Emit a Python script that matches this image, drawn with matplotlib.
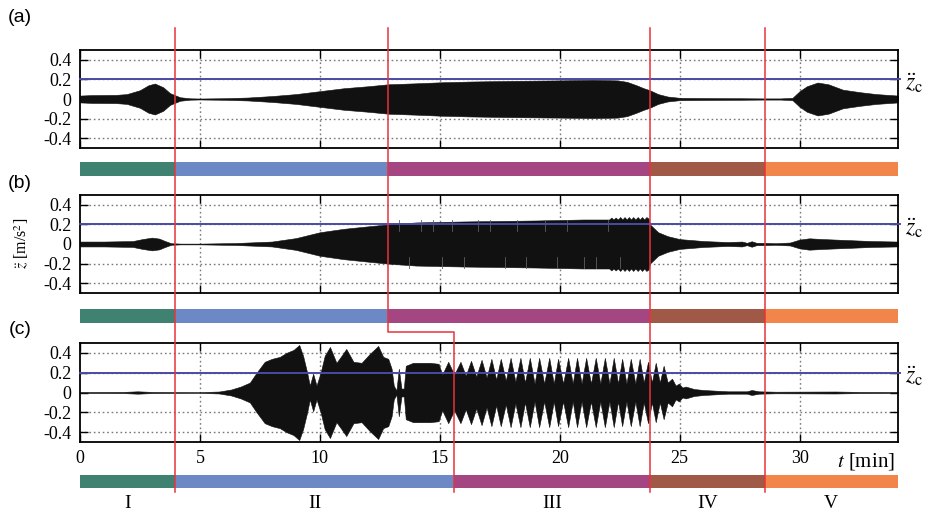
import matplotlib
matplotlib.use('Agg')
import matplotlib.pyplot as plt

# envelope amplitudes (m/s^2)
a_t = [0.0, 0.5, 1.5, 1.95, 2.5, 2.85, 3.12, 3.47, 3.75, 4.17,
       4.6, 5.0, 6.0, 7.0, 8.0, 9.0, 10.0, 11.0, 12.0, 12.85,
       14.0, 15.0, 16.25, 18.0, 20.0, 21.4, 22.4, 22.8, 23.2, 23.5,
       23.75, 24.1, 24.5, 25.0, 26.0, 27.5, 28.5, 29.2, 29.7, 30.0,
       30.3, 30.75, 31.2, 31.8, 32.5, 33.2, 34.1]
a_amp = [0.035, 0.04, 0.042, 0.05, 0.09, 0.14, 0.158, 0.12, 0.06, 0.018,
         0.007, 0.005, 0.008, 0.015, 0.03, 0.05, 0.08, 0.11, 0.13, 0.15,
         0.16, 0.17, 0.178, 0.185, 0.19, 0.195, 0.19, 0.175, 0.14, 0.11,
         0.09, 0.05, 0.025, 0.012, 0.01, 0.008, 0.006, 0.006, 0.012, 0.08,
         0.13, 0.168, 0.15, 0.095, 0.07, 0.05, 0.035]

b_t = [0.0, 1.0, 2.2, 2.6, 3.0, 3.3, 3.55, 3.8, 4.2, 5.0,
       6.5, 8.0, 9.0, 10.0, 11.0, 12.0, 12.83, 14.0, 16.0, 19.0,
       21.0, 21.8, 22.06, 22.15, 22.24, 22.33, 22.42, 22.52, 22.61, 22.7,
       22.79, 22.88, 22.97, 23.06, 23.15, 23.25, 23.34, 23.43, 23.52, 23.61,
       23.7, 23.76, 24.1, 24.5, 25.0, 26.0, 27.0, 27.6, 27.8, 28.0,
       28.2, 28.5, 29.0, 29.6, 30.0, 30.4, 31.0, 32.0, 33.0, 34.1]
b_amp = [0.025, 0.025, 0.03, 0.05, 0.065, 0.055, 0.03, 0.008, 0.004, 0.004,
         0.01, 0.025, 0.06, 0.12, 0.155, 0.18, 0.2, 0.22, 0.23, 0.24,
         0.25, 0.25, 0.25, 0.27, 0.25, 0.27, 0.25, 0.275, 0.25, 0.275,
         0.25, 0.275, 0.25, 0.275, 0.25, 0.275, 0.25, 0.275, 0.25, 0.275,
         0.26, 0.2, 0.12, 0.08, 0.05, 0.03, 0.02, 0.025, 0.012, 0.028,
         0.012, 0.012, 0.008, 0.015, 0.045, 0.058, 0.05, 0.04, 0.03, 0.025]
# light vertical streaks inside record (b)
b_streak_t = [13.3, 13.7, 14.2, 14.7, 15.1, 15.5, 16.0, 16.6, 17.1, 17.7,
              18.2, 18.6, 19.4, 19.9, 20.3, 21.0, 21.5, 22.0, 22.5]
b_streak_side = [1, -1, 1, 1, -1, 1, -1, 1, 1, -1,
                 1, -1, 1, -1, 1, -1, -1, 1, -1]

c_t = [0.0, 1.8, 2.4, 3.0, 5.0, 5.8, 6.3, 6.7, 7.08, 7.36,
       7.7, 8.0, 8.33, 8.6, 8.9, 9.14, 9.3, 9.47, 9.58, 9.72,
       9.86, 10.03, 10.2, 10.42, 10.69, 10.9, 11.1, 11.4, 11.74, 12.08,
       12.43, 12.64, 12.85, 12.99, 13.08, 13.19, 13.29, 13.4, 13.5, 13.58,
       13.89, 14.58, 14.95, 15.1,
       15.35, 15.6, 15.86, 16.08, 16.3, 16.52, 16.74, 16.95, 17.15, 17.35,
       17.54, 17.75, 17.95, 18.15, 18.36, 18.55, 18.75, 18.95, 19.14, 19.35,
       19.56, 19.75, 19.93, 20.14, 20.35, 20.54, 20.72, 20.91, 21.1, 21.3,
       21.5, 21.69, 21.88, 22.07, 22.25, 22.43, 22.6, 22.78, 22.96, 23.15,
       23.33, 23.5, 23.68, 23.84, 24.0, 24.17, 24.33, 24.5, 24.68, 24.83,
       24.97, 25.11, 25.25, 25.6, 26.0, 27.0, 27.8, 28.0, 28.3, 29.0,
       31.5, 32.5, 34.1]
c_amp = [0.005, 0.006, 0.012, 0.006, 0.004, 0.01, 0.03, 0.06, 0.1, 0.2,
         0.31, 0.34, 0.36, 0.4, 0.43, 0.48, 0.37, 0.2, 0.07, 0.19,
         0.07, 0.2, 0.37, 0.46, 0.3, 0.37, 0.44, 0.31, 0.3, 0.39,
         0.47, 0.36, 0.34, 0.24, 0.07, 0.02, 0.24, 0.04, 0.04, 0.27,
         0.3, 0.3, 0.29, 0.18,
         0.31, 0.18, 0.31, 0.17, 0.32, 0.16, 0.33, 0.15, 0.34, 0.13,
         0.34, 0.12, 0.35, 0.11, 0.35, 0.10, 0.35, 0.09, 0.35, 0.09,
         0.35, 0.09, 0.34, 0.09, 0.35, 0.09, 0.35, 0.09, 0.35, 0.09,
         0.35, 0.09, 0.35, 0.09, 0.35, 0.09, 0.34, 0.09, 0.34, 0.09,
         0.34, 0.1, 0.31, 0.1, 0.3, 0.1, 0.27, 0.1, 0.14, 0.07,
         0.09, 0.05, 0.06, 0.035, 0.025, 0.012, 0.012, 0.025, 0.012, 0.008,
         0.01, 0.006, 0.005]

z_crit = 0.2
x_ticks = [0, 5, 10, 15, 20, 25, 30]
x_ticklabels = ['0', '5', '10', '15', '20', '25', '30']
y_ticks = [0.4, 0.2, 0, -0.2, -0.4]
y_ticklabels = ['0.4', '0.2', '0', '-0.2', '-0.4']
x_grid = [5, 10, 15, 20, 25, 30]
y_grid = [0.4, 0.2, -0.2, -0.4]

phase_names = ['I', 'II', 'III', 'IV', 'V']
phase_colors = ['#3f8272', '#6c89c5', '#a34682', '#a05946', '#f28549']
edges_ab = [0, 3.95, 12.83, 23.75, 28.54, 34.1]
edges_c = [0, 3.95, 15.6, 23.75, 28.54, 34.1]

XMAX = 34.1
W, H = 930, 516
LEFT, RIGHT = 80, 898

plt.rcParams['font.family'] = ['Liberation Serif', 'DejaVu Serif']
plt.rcParams['mathtext.fontset'] = 'stix'


def rect(top, bottom):
    return [LEFT / W, 1 - bottom / H, (RIGHT - LEFT) / W, (bottom - top) / H]


fig = plt.figure(figsize=(W / 100, H / 100), dpi=100)

panels = [
    (a_t, a_amp, (50, 148), (162, 176), edges_ab, '(a)', 17),
    (b_t, b_amp, (195, 293), (309, 323), edges_ab, '(b)', 183),
    (c_t, c_amp, (343, 442), (475, 488), edges_c, '(c)', 329),
]

for i, (t, amp, (top, bot), (btop, bbot), edges, tag, tag_y) in enumerate(panels):
    ax = fig.add_axes(rect(top, bot))
    ax.set_xlim(0, XMAX)
    ax.set_ylim(-0.5, 0.5)
    for xg in x_grid:
        ax.axvline(xg, color='#7a7a7a', lw=1.0, ls=(0, (1.2, 2.0)), zorder=0)
    for yg in y_grid:
        ax.axhline(yg, color='#7a7a7a', lw=1.0, ls=(0, (1.2, 2.0)), zorder=0)
    lower = [-v for v in amp]
    ax.fill_between(t, lower, amp, color='#111111', lw=0.4, zorder=2)
    if i == 1:
        for ts, side in zip(b_streak_t, b_streak_side):
            ax.plot([ts, ts], [side * 0.13, side * 0.24], color='#5e5e5e',
                    lw=0.6, zorder=2.5)
    ax.plot([0, XMAX + 0.1], [z_crit, z_crit], color='#4a4aa6', lw=1.4,
            clip_on=False, zorder=3)
    ax.set_xticks(x_ticks, x_ticklabels)
    ax.set_yticks(y_ticks, y_ticklabels)
    ax.tick_params(direction='in', top=True, right=True, length=6, width=1,
                   labelsize=13, pad=6)
    if i < 2:
        ax.tick_params(labelbottom=False)
    for sp in ax.spines.values():
        sp.set_linewidth(1.3)

    # phase bar
    bx = fig.add_axes(rect(btop, bbot))
    bx.set_xlim(0, XMAX)
    bx.set_ylim(0, 1)
    bx.broken_barh([(edges[k], edges[k + 1] - edges[k]) for k in range(5)],
                   (0, 1), facecolors=phase_colors)
    bx.axis('off')

    fig.text(20 / W, 1 - tag_y / H, tag, ha='center', va='center',
             fontsize=14, family='Liberation Sans')
    fig.text(905 / W, 1 - ((top + bot) / 2 - 16) / H, r'$\ddot{z}_{\rm c}$',
             ha='left', va='center', fontsize=17)

fig.text(22 / W, 1 - 243 / H, r'$\ddot{z}$ [m/s$^2$]', rotation=90,
         ha='center', va='center', fontsize=11.5)
fig.text(895 / W, 1 - 461 / H, r'$t$ [min]', ha='right', va='center',
         fontsize=15)

# overlay for phase boundaries and roman numerals
ov = fig.add_axes([LEFT / W, 0, (RIGHT - LEFT) / W, 1])
ov.set_xlim(0, XMAX)
ov.set_ylim(H, 0)
ov.axis('off')
red = '#e8333b'
for tb in [edges_ab[1], edges_ab[3], edges_ab[4]]:
    ov.plot([tb, tb], [28, 492], color=red, lw=1.1, clip_on=False)
ov.plot([edges_ab[2], edges_ab[2], edges_c[2], edges_c[2]],
        [28, 332, 332, 492], color=red, lw=1.1, clip_on=False)
for k, name in enumerate(phase_names):
    ov.text((edges_c[k] + edges_c[k + 1]) / 2, 503, name, ha='center',
            va='center', fontsize=14)

fig.savefig('out.png', dpi=100)
